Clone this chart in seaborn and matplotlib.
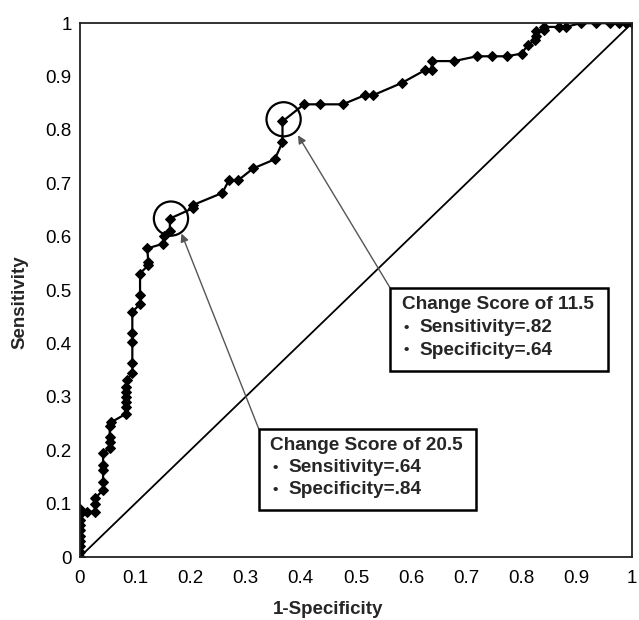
import matplotlib
matplotlib.use("Agg")
import matplotlib.pyplot as plt
import seaborn as sns
from matplotlib.patches import Ellipse, Rectangle
from matplotlib.ticker import FuncFormatter

# ROC curve points (1-specificity, sensitivity)
fpr = [0, 0, 0, 0, 0, 0, 0, 0, 0, 0,
       0.012, 0.027, 0.027, 0.027, 0.042, 0.042, 0.042, 0.042, 0.042,
       0.054, 0.054, 0.054, 0.054, 0.056, 0.083, 0.083, 0.083, 0.083,
       0.083, 0.083, 0.085, 0.095, 0.095, 0.095, 0.095, 0.095, 0.109,
       0.109, 0.109, 0.124, 0.124, 0.122, 0.151, 0.152, 0.163, 0.163,
       0.204, 0.204, 0.258, 0.27, 0.287, 0.314, 0.353, 0.367, 0.367,
       0.406, 0.435, 0.476, 0.516, 0.531, 0.583, 0.625, 0.637, 0.637,
       0.678, 0.719, 0.746, 0.773, 0.80, 0.812, 0.824, 0.827, 0.827,
       0.841, 0.841, 0.868, 0.88, 0.907, 0.935, 0.961, 0.977, 0.989, 1.0]
tpr = [0, 0.01, 0.02, 0.03, 0.04, 0.05, 0.06, 0.07, 0.08, 0.09,
       0.085, 0.085, 0.10, 0.11, 0.125, 0.14, 0.163, 0.172, 0.195,
       0.204, 0.216, 0.225, 0.245, 0.252, 0.268, 0.281, 0.291, 0.30,
       0.31, 0.319, 0.331, 0.345, 0.363, 0.403, 0.419, 0.459, 0.474,
       0.49, 0.531, 0.547, 0.553, 0.578, 0.587, 0.601, 0.61, 0.634,
       0.653, 0.659, 0.682, 0.706, 0.706, 0.728, 0.745, 0.777, 0.816,
       0.848, 0.848, 0.848, 0.865, 0.865, 0.888, 0.912, 0.912, 0.929,
       0.929, 0.938, 0.938, 0.938, 0.943, 0.96, 0.968, 0.976, 0.985,
       0.987, 0.993, 0.993, 0.993, 1.0, 1.0, 1.0, 1.0, 1.0, 1.0]

# highlighted cut-offs: (x, y) of point, arrow tip, and box text
cut_points = [(0.165, 0.634), (0.369, 0.82)]
arrow_tips = [(0.184, 0.606), (0.395, 0.790)]
box_titles = ["Change Score of 20.5", "Change Score of 11.5"]
box_lines = [["Sensitivity=.64", "Specificity=.84"],
             ["Sensitivity=.82", "Specificity=.64"]]

ticks = [i / 10 for i in range(11)]

sns.set_style("white")
plt.rcParams['font.family'] = ['Liberation Sans', 'DejaVu Sans']

fig = plt.figure(figsize=(6.39, 6.2), dpi=100)
ax = fig.add_axes([0.125, 0.1016, 0.864, 0.861])

# chance diagonal
sns.lineplot(x=[0, 1], y=[0, 1], color='black', linewidth=1.3, ax=ax)
# ROC curve
sns.lineplot(x=fpr, y=tpr, sort=False, estimator=None, color='black',
             linewidth=1.6, marker='D', markersize=5, markeredgecolor='black',
             ax=ax)

# boxes: (left, bottom, right, top) in data units
boxes = [(0.324, 0.088, 0.717, 0.240), (0.562, 0.348, 0.957, 0.504)]

for i in range(2):
    cx, cy = cut_points[i]
    ax.add_patch(Ellipse((cx, cy), 0.062, 0.064, fill=False, edgecolor='black',
                         linewidth=1.6, zorder=5))
    l, b, r, t = boxes[i]
    ax.add_patch(Rectangle((l, b), r - l, t - b, fill=False, edgecolor='black',
                           linewidth=1.8, zorder=5))
    ax.annotate('', xy=arrow_tips[i], xytext=(l, t),
                arrowprops=dict(arrowstyle='-|>', color='#555555', lw=1.0,
                                mutation_scale=12, shrinkA=0, shrinkB=0))
    h = t - b
    ax.text(l + 0.021, t - 0.20 * h, box_titles[i], fontsize=13.7,
            fontweight='bold', va='center', ha='left')
    for j, line in enumerate(box_lines[i]):
        yy = t - (0.48 + 0.27 * j) * h
        ax.text(l + 0.025, yy, u'\u2022', fontsize=11, fontweight='bold',
                va='center', ha='left')
        ax.text(l + 0.054, yy, line, fontsize=13.7, fontweight='bold',
                va='center', ha='left')

ax.set_xlim(0, 1)
ax.set_ylim(0, 1)
ax.set_xticks(ticks)
ax.set_yticks(ticks)
fmt = FuncFormatter(lambda v, p: '%g' % v)
ax.xaxis.set_major_formatter(fmt)
ax.yaxis.set_major_formatter(fmt)
ax.tick_params(axis='both', direction='out', length=4, width=1,
               labelsize=13.5, colors='black')
ax.tick_params(axis='x', pad=5)
ax.tick_params(axis='y', pad=2)
for s in ax.spines.values():
    s.set_color('#222222')
    s.set_linewidth(1.3)
ax.set_xlabel('1-Specificity', fontsize=13.5, fontweight='bold')
ax.set_ylabel('Sensitivity', fontsize=13.5, fontweight='bold')
ax.xaxis.set_label_coords(0.449, -0.082)
ax.yaxis.set_label_coords(-0.093, 0.478)

plt.savefig('out.png', dpi=100)
